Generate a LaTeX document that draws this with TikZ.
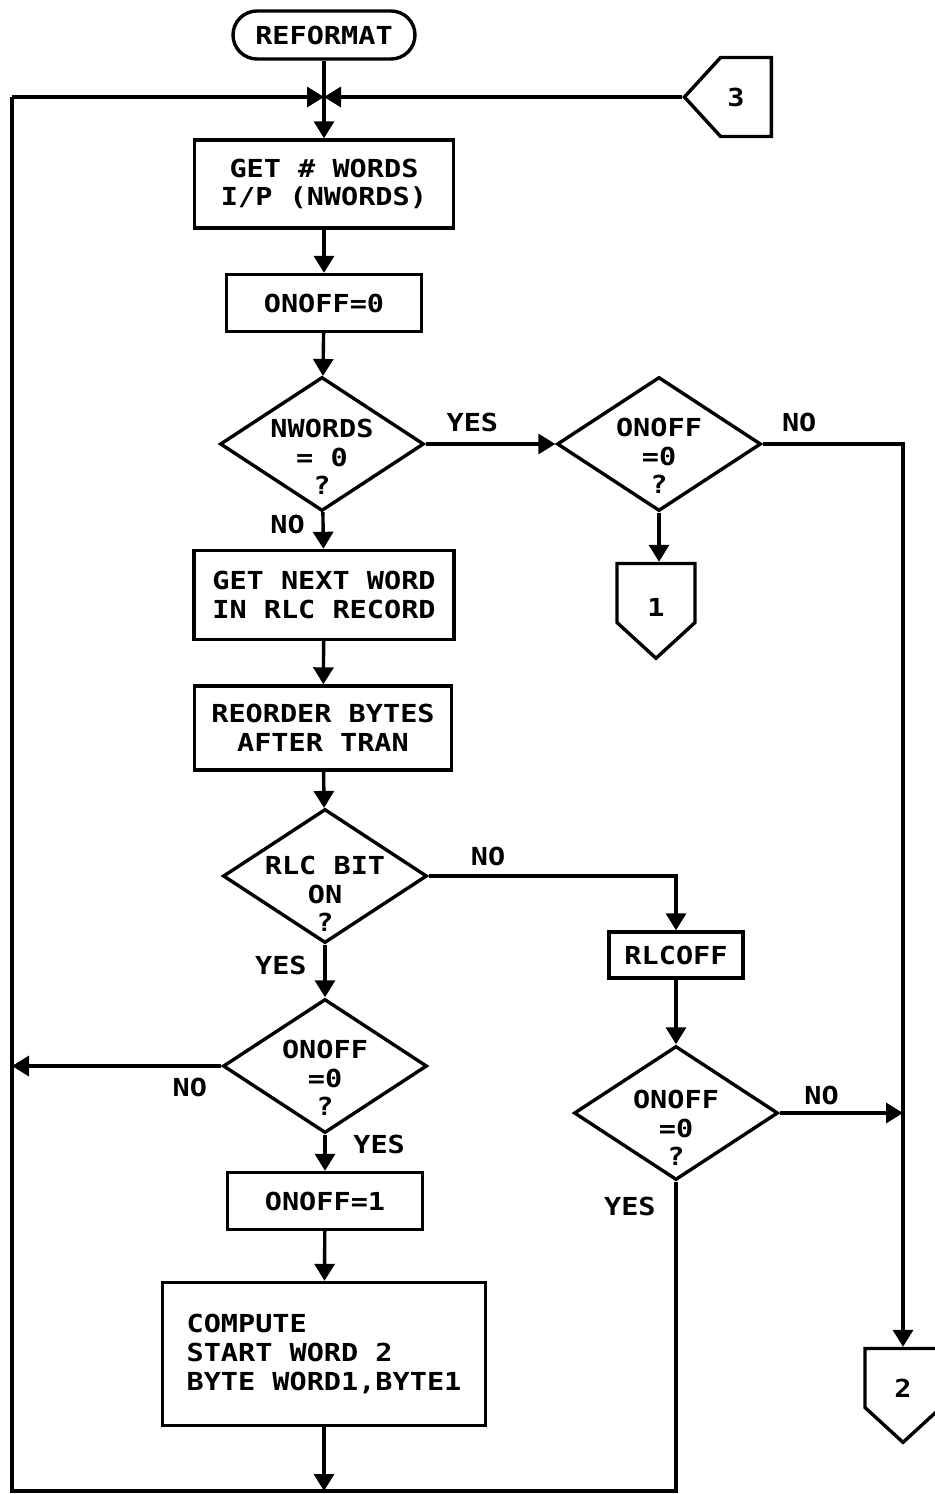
\documentclass[tikz,border=0pt]{standalone}
\usepackage{fontspec}
\setmainfont[FakeStretch=1.15]{DejaVu Sans Mono}
\usetikzlibrary{arrows.meta, positioning, shapes.geometric, shapes.symbols}

\begin{document}
\begin{tikzpicture}[
    x=0.5pt, y=-0.5pt,
    font=\fontsize{12.4}{14.3}\selectfont\bfseries,
    line width=1.7pt,
    terminal/.style={rectangle, rounded corners=12pt, draw, minimum width=91pt, minimum height=24pt, inner sep=0pt},
    process/.style={rectangle, draw, inner sep=0pt, align=center},
    decision/.style={diamond, draw, inner sep=0pt, minimum width=102pt, minimum height=67pt},
    connector/.style={signal, draw, inner sep=0pt, signal pointer angle=95},
    flow/.style={-{Triangle[length=8.5pt, width=10pt]}}
]
    \useasboundingbox (0,0) rectangle (934,1494);

    \node[terminal] (start) at (324,35) {REFORMAT};
    \node[process, minimum width=129.5pt, minimum height=44pt] (nwin) at (324,184) {GET \# WORDS\\I/P (NWORDS)};
    \node[process, minimum width=97.5pt, minimum height=28.5pt] (clr) at (324,303) {ONOFF=0};
    \node[decision, label={[align=center, yshift=-6.5pt]center:{NWORDS\\= 0\\?}}] (isempty) at (322,444) {};
    \node[decision, label={[align=center, yshift=-6pt]center:{ONOFF\\=0\\?}}] (chk0) at (659,444) {};
    \node[connector, signal to=south, minimum width=39pt, minimum height=29.5pt, label={[yshift=-7pt]center:1}] (con1) at (656,593) {};
    \node[process, minimum width=130pt, minimum height=44.5pt] (nxt) at (324,595) {GET NEXT WORD\\IN RLC RECORD};
    \node[process, minimum width=128.5pt, minimum height=42pt] (swap) at (323,728) {REORDER BYTES\\AFTER TRAN};
    \node[decision, label={[align=center, yshift=-9pt]center:{RLC BIT\\ON\\?}}] (rlcbit) at (325,876) {};
    \node[process, minimum width=67pt, minimum height=23pt] (rlcoff) at (676,955) {RLCOFF};
    \node[decision, label={[align=center, yshift=-6pt]center:{ONOFF\\=0\\?}}] (chk1) at (325,1066) {};
    \node[decision, label={[align=center, yshift=-7.5pt]center:{ONOFF\\=0\\?}}] (chk2) at (676,1113) {};
    \node[process, minimum width=97.5pt, minimum height=28.5pt] (set) at (325,1201) {ONOFF=1};
    \node[process, align=left, minimum width=161.5pt, minimum height=71.5pt] (comp) at (324,1354) {COMPUTE\\START WORD 2\\BYTE WORD1,BYTE1};
    \node[connector, signal to=south, minimum width=38pt, minimum height=29.5pt, label={[yshift=-5pt]center:2}] (con2) at (903,1378) {};
    \node[connector, signal to=west, minimum width=43.5pt, minimum height=39.5pt, label={[xshift=-5pt]center:3}] (con3) at (746,97) {};

    \coordinate (join) at (324,97);
    \coordinate (topleft) at (12,97);
    \coordinate (botleft) at (12,1491);

    \draw (start) -- (join);
    \draw[flow] (join) -- (nwin);
    \draw[flow] (topleft) -- (join);
    \draw[flow] (con3) -- (join);
    \draw[flow] (nwin) -- (clr);
    \draw[flow] (clr) -- (isempty);
    \draw[flow] (isempty) -- node[above=2pt, pos=0.36] {YES} (chk0);
    \draw[flow] (chk0) -- (chk0 |- con1.north);
    \draw[flow] (chk0.east) -| node[above=2pt, pos=0.13] {NO} (con2.north);
    \draw[flow] (isempty) -- node[left=5pt, pos=0.35] {NO} (nxt);
    \draw[flow] (nxt) -- (swap);
    \draw[flow] (swap) -- (rlcbit);
    \draw[flow] (rlcbit.east) -| node[above=1pt, pos=0.12] {NO} (rlcoff.north);
    \draw[flow] (rlcbit) -- node[left=5pt, pos=0.4] {YES} (chk1);
    \draw[flow] (chk1.west) -- node[below=2pt, pos=0.15] {NO} (chk1.west -| topleft);
    \draw[flow] (chk1) -- node[right=10pt, pos=0.27] {YES} (set);
    \draw[flow] (set) -- (comp);
    \draw[flow] (comp) -- (comp |- botleft);
    \draw[flow] (rlcoff) -- (chk2);
    \draw[flow] (chk2.east) -- node[above=0pt, pos=0.34] {NO} (chk2.east -| con2);
    \draw (chk2.south) |- node[left=6pt, pos=0.04] {YES} (botleft) -- (topleft);
\end{tikzpicture}
\end{document}
